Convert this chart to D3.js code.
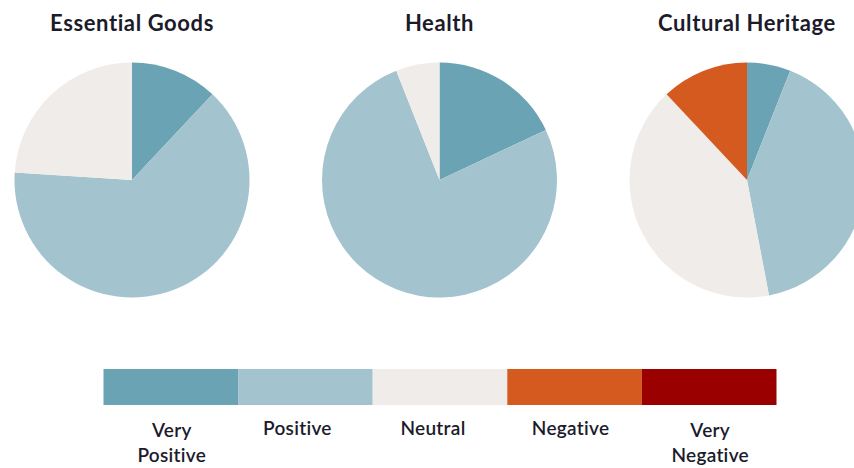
<!DOCTYPE html>
<html>
<head>
<meta charset="utf-8">
<script src="https://cdn.jsdelivr.net/npm/d3@7/dist/d3.min.js"></script>
<style>
  html, body { margin: 0; padding: 0; background: #ffffff; }
  svg { display: block; }
  text { font-family: Lato, "Open Sans", sans-serif; fill: #1b1b2b; }
</style>
</head>
<body>
<svg id="chart" width="854" height="468"></svg>
<script>
// ---- data ----
const categories = ["Very Positive", "Positive", "Neutral", "Negative", "Very Negative"];
const legendLabels = [["Very", "Positive"], ["Positive"], ["Neutral"], ["Negative"], ["Very", "Negative"]];
const titles = ["Essential Goods", "Health", "Cultural Heritage"];
const essentialGoods = [12, 64, 24, 0, 0];
const health = [18, 76, 6, 0, 0];
const culturalHeritage = [6, 41, 41, 12, 0];
const colors = ["#6aa3b4", "#a3c3cf", "#f0ecea", "#d45a20", "#9a0000"];

const series = [essentialGoods, health, culturalHeritage];

// ---- layout ----
const svg = d3.select("#chart");
const color = d3.scaleOrdinal().domain(categories).range(colors);

const cx = d3.scalePoint().domain(titles).range([132, 747]);
const radius = 117.5;
const cy = 180;

const pie = d3.pie().sort(null).value(d => d.v);
const arc = d3.arc().innerRadius(0).outerRadius(radius);

titles.forEach((t, i) => {
  const g = svg.append("g").attr("transform", `translate(${cx(t)},${cy})`);
  const data = categories.map((c, j) => ({ c, v: series[i][j] }));
  g.selectAll("path")
    .data(pie(data).filter(d => d.data.v > 0))
    .join("path")
    .attr("d", arc)
    .attr("fill", d => color(d.data.c));
  svg.append("text")
    .attr("x", cx(t))
    .attr("y", 31)
    .attr("text-anchor", "middle")
    .attr("font-size", 22)
    .attr("font-weight", 700)
    .attr("letter-spacing", 0.6)
    .text(t);
});

// ---- legend ----
const lx = d3.scaleBand().domain(categories).range([103.5, 776.5]).padding(0);
const labelShift = [1, -8, -7, -4, 1];
svg.append("g").selectAll("rect")
  .data(categories)
  .join("rect")
  .attr("x", d => lx(d))
  .attr("y", 369)
  .attr("width", lx.bandwidth())
  .attr("height", 36)
  .attr("fill", d => color(d));

const lg = svg.append("g");
categories.forEach((c, i) => {
  const lines = legendLabels[i];
  const x = lx(c) + lx.bandwidth() / 2 + labelShift[i];
  const baseY = lines.length > 1 ? 437 : 435;
  const txt = lg.append("text")
    .attr("text-anchor", "middle")
    .attr("font-size", 19)
    .attr("font-weight", 600)
    .attr("letter-spacing", 0.3);
  lines.forEach((l, k) => {
    txt.append("tspan").attr("x", x).attr("y", baseY + k * 24.5).text(l);
  });
});
</script>
</body>
</html>
